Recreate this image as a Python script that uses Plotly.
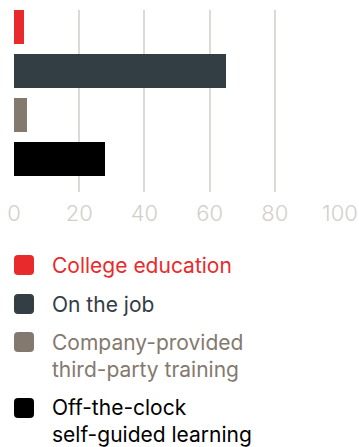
import plotly.graph_objects as go

categories = ["College education", "On the job",
              "Company-provided<br>third-party training",
              "Off-the-clock<br>self-guided learning"]
values = [3, 65, 4, 28]
colors = ["#e92a2d", "#333d44", "#84796f", "#000000"]
tick_vals = [0, 20, 40, 60, 80, 100]
tick_text = ["0", "20", "40", "60", "80", "100"]

W, H = 359, 447
ML, MR, MT, MB = 14, 19, 10, 255
PW, PH = W - ML - MR, H - MT - MB

FONT = "Inter"

fig = go.Figure()
for i, (c, v, col) in enumerate(zip(categories, values, colors)):
    fig.add_trace(go.Bar(x=[v], y=[i], orientation="h", marker_color=col,
                         marker_line_width=0, width=0.77, showlegend=False,
                         hoverinfo="skip"))

def px_to_paper_x(px):
    return (px - ML) / PW

def px_to_paper_y(py):
    return (H - MB - py) / PH

# legend (manual)
legend_marker_cy = [265, 304, 342, 408]
legend_text_cy = [265, 304, 355.5, 421]
shapes = []
annotations = []
for col, name, mcy, tcy in zip(colors, categories, legend_marker_cy, legend_text_cy):
    x0, x1 = 14, 34
    y0, y1 = mcy - 10, mcy + 10
    r = 4
    pts = lambda X, Y: f"{px_to_paper_x(X):.5f},{px_to_paper_y(Y):.5f}"
    path = (f"M {pts(x0 + r, y0)} L {pts(x1 - r, y0)} Q {pts(x1, y0)} {pts(x1, y0 + r)} "
            f"L {pts(x1, y1 - r)} Q {pts(x1, y1)} {pts(x1 - r, y1)} "
            f"L {pts(x0 + r, y1)} Q {pts(x0, y1)} {pts(x0, y1 - r)} "
            f"L {pts(x0, y0 + r)} Q {pts(x0, y0)} {pts(x0 + r, y0)} Z")
    shapes.append(dict(type="path", xref="paper", yref="paper", path=path,
                       fillcolor=col, line_width=0))
    annotations.append(dict(xref="paper", yref="paper", x=px_to_paper_x(50),
                            y=px_to_paper_y(tcy), xanchor="left", yanchor="middle",
                            text=name, showarrow=False, align="left",
                            font=dict(family=FONT, size=21, color=col)))

fig.update_layout(
    width=W, height=H,
    margin=dict(l=ML, r=MR, t=MT, b=MB, pad=0, autoexpand=False),
    paper_bgcolor="white", plot_bgcolor="white",
    bargap=0,
    xaxis=dict(range=[0, 100], tickvals=tick_vals, ticktext=tick_text,
               showgrid=True, gridcolor="#dcd9d6", gridwidth=1.5,
               zeroline=False, showline=False, ticks="", automargin=False,
               ticklabelstandoff=6,
               tickfont=dict(family=FONT, size=22, color="#d3cfcb", weight=300),
               fixedrange=True),
    yaxis=dict(range=[3.75, -0.386], showticklabels=False, showgrid=False,
               automargin=False,
               zeroline=False, showline=False, fixedrange=True),
    shapes=shapes, annotations=annotations,
)

fig.write_html("out.html", config={"displayModeBar": False})
